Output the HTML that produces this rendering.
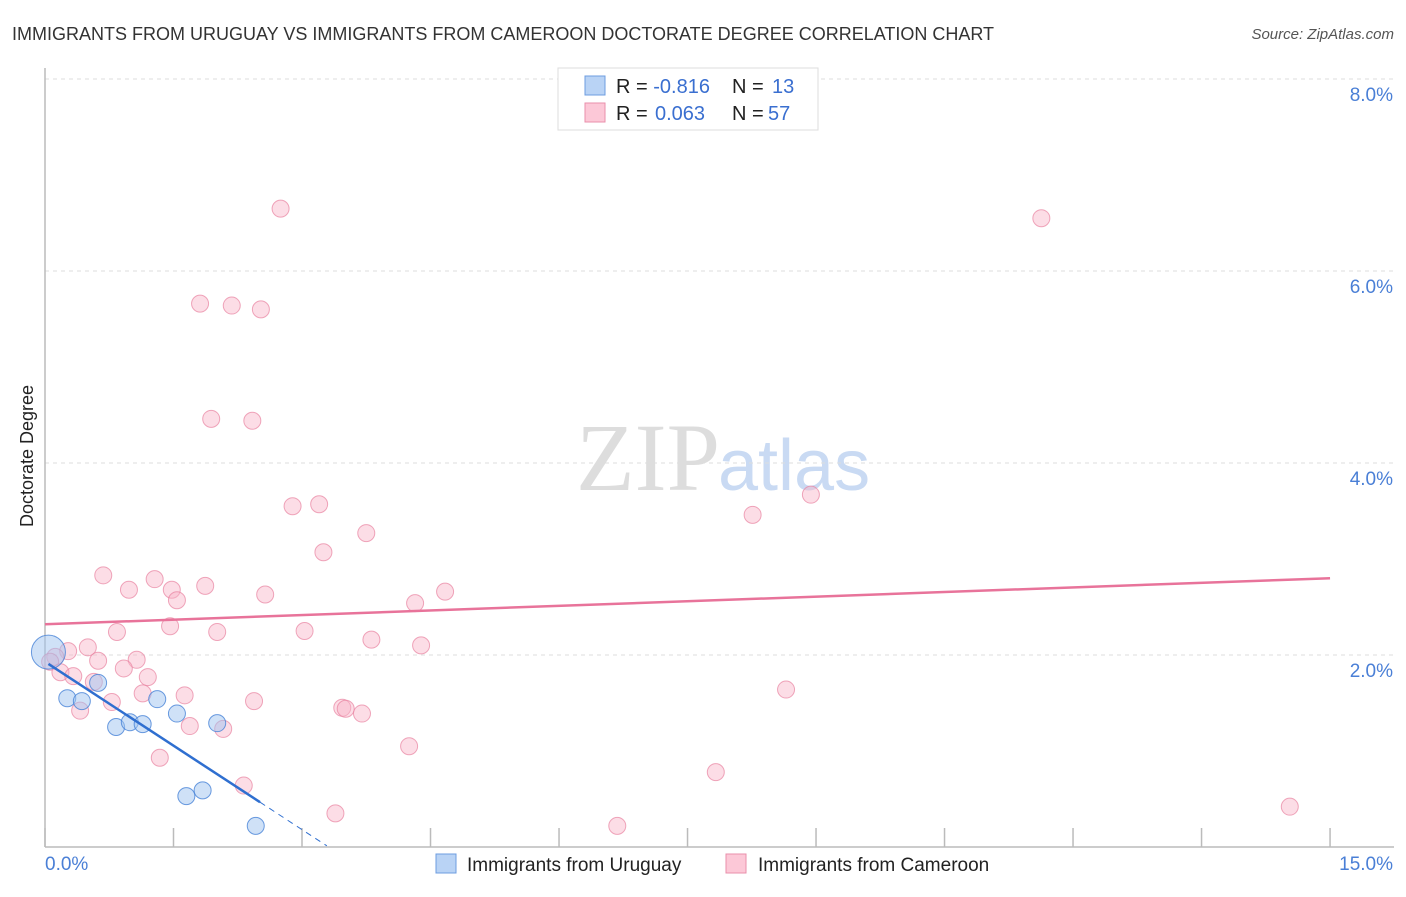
<!DOCTYPE html>
<html><head><meta charset="utf-8"><style>
body{margin:0;background:#fff;font-family:"Liberation Sans",sans-serif}
svg text{font-family:"Liberation Sans",sans-serif}
</style></head><body>
<svg id="c" width="1406" height="892">
<text x="12" y="40" font-size="18" fill="#333">IMMIGRANTS FROM URUGUAY VS IMMIGRANTS FROM CAMEROON DOCTORATE DEGREE CORRELATION CHART</text>
<text x="1394" y="39" font-size="15" fill="#555" font-style="italic" text-anchor="end">Source: ZipAtlas.com</text>
<text x="720" y="490" font-size="96" fill="#ddd" text-anchor="end" font-family="Liberation Serif" style="font-family:'Liberation Serif',serif">ZIP</text>
<text x="718" y="490" font-size="72" fill="#c9daf3">atlas</text>
<text transform="translate(33,456) rotate(-90)" font-size="18" fill="#222" text-anchor="middle">Doctorate Degree</text>
<g id="grid"></g><g id="marks"></g>
<g>
<rect x="558" y="68" width="260" height="62" fill="#fff" stroke="#ddd"/>
<rect x="585" y="76" width="20" height="19" fill="#b9d3f5" stroke="#6d9de0"/>
<rect x="585" y="103" width="20" height="19" fill="#fcc8d7" stroke="#ea8fab"/>
<text x="616" y="93" font-size="20" fill="#222">R = <tspan fill="#3a6fd0">-0.816</tspan><tspan x="732">N = </tspan><tspan fill="#3a6fd0" x="772">13</tspan></text>
<text x="616" y="120" font-size="20" fill="#222">R = <tspan fill="#3a6fd0" x="655">0.063</tspan><tspan x="732">N = </tspan><tspan fill="#3a6fd0" x="768">57</tspan></text>
</g>
<g>
<rect x="436" y="854" width="20" height="19" fill="#b9d3f5" stroke="#6d9de0"/>
<text x="467" y="871" font-size="19" fill="#222">Immigrants from Uruguay</text>
<rect x="726" y="854" width="20" height="19" fill="#fcc8d7" stroke="#ea8fab"/>
<text x="758" y="871" font-size="19" fill="#222">Immigrants from Cameroon</text>
</g>
</svg>
<script>
const xTicks=[0,1.5,3,4.5,6,7.5,9,10.5,12,13.5,15];
const yTicks=[2,4,6,8];
const yTickLabels=["2.0%","4.0%","6.0%","8.0%"];
const blueX=[0.04,0.26,0.43,0.62,0.83,0.99,1.14,1.31,1.54,1.65,1.84,2.01,2.46];
const blueY=[2.03,1.55,1.52,1.71,1.25,1.30,1.28,1.54,1.39,0.53,0.59,1.29,0.22];
const pinkX=[2.75,11.63,1.81,2.18,2.52,1.94,2.42,2.89,3.20,8.94,8.26,3.75,3.25,0.68,1.28,0.98,1.48,1.87,1.54,2.57,4.67,4.32,1.46,0.84,2.01,3.03,3.81,4.39,0.50,0.27,0.12,0.06,0.62,1.07,0.18,0.33,0.92,1.20,0.57,0.78,1.14,1.63,0.41,2.44,8.65,3.47,3.51,3.70,1.69,2.08,1.34,4.25,2.32,7.83,3.39,6.68,14.53];
const pinkY=[6.65,6.55,5.66,5.64,5.60,4.46,4.44,3.55,3.57,3.67,3.46,3.27,3.07,2.83,2.79,2.68,2.68,2.72,2.57,2.63,2.66,2.54,2.30,2.24,2.24,2.25,2.16,2.10,2.08,2.04,1.98,1.93,1.94,1.95,1.82,1.78,1.86,1.77,1.72,1.51,1.60,1.58,1.42,1.52,1.64,1.45,1.44,1.39,1.26,1.23,0.93,1.05,0.64,0.78,0.35,0.22,0.42];
const pinkTrend=[2.32,2.80];
const blueTrend=[1.93,-0.583];
const X=v=>45+v*85.67, Y=v=>847-v*96;
const NS="http://www.w3.org/2000/svg";
const grid=document.getElementById('grid'), marks=document.getElementById('marks');
function mk(tag,attrs,parent){const e=document.createElementNS(NS,tag);for(const k in attrs)e.setAttribute(k,attrs[k]);parent.appendChild(e);return e;}
yTicks.forEach((t,i)=>{
 const l=mk('line',{x1:45,x2:1394,y1:Y(t),y2:Y(t),stroke:'#ddd','stroke-dasharray':'4,4'},grid);
 
 
 const tx=mk('text',{x:1393,y:Y(t)+22,'font-size':19,fill:'#4a7fd6','text-anchor':'end'},grid);tx.textContent=yTickLabels[i];
 
 
});
mk('line',{x1:45,x2:1394,y1:Y(8),y2:Y(8),stroke:'#ddd','stroke-dasharray':'4,4'},grid);
mk('line',{x1:45,x2:45,y1:68,y2:847,stroke:'#bbb','stroke-width':1.5},grid);
mk('line',{x1:45,x2:1394,y1:847,y2:847,stroke:'#bbb','stroke-width':1.5},grid);
xTicks.forEach(t=>{const l=mk('line',{x1:X(t),x2:X(t),y1:828,y2:847,stroke:'#bbb','stroke-width':1.5},grid);
 
 });
const x0=mk('text',{x:45,y:870,'font-size':19,fill:'#4a7fd6'},grid);x0.textContent="0.0%";


const x1=mk('text',{x:1393,y:870,'font-size':19,fill:'#4a7fd6','text-anchor':'end'},grid);x1.textContent="15.0%";


pinkX.forEach((v,i)=>{const c=mk('circle',{cx:X(v),cy:Y(pinkY[i]),r:8.5,fill:'rgba(248,180,200,0.45)',stroke:'rgba(232,130,160,0.7)','stroke-width':1},marks);
 
 });
blueX.forEach((v,i)=>{const c=mk('circle',{cx:X(v),cy:Y(blueY[i]),r:i===0?17:8.5,fill:'rgba(160,195,240,0.5)',stroke:'rgba(70,130,215,0.8)','stroke-width':1},marks);
 
 });
const pl=mk('line',{x1:X(0),y1:Y(pinkTrend[0]),x2:X(15),y2:Y(pinkTrend[1]),stroke:'#e8739a','stroke-width':2.5},marks);


const bf=x=>blueTrend[0]+blueTrend[1]*x;
const bl=mk('line',{x1:X(0.04),y1:Y(bf(0.04)),x2:X(2.51),y2:Y(bf(2.51)),stroke:'#2f6fd0','stroke-width':2.5},marks);


const bd=mk('line',{x1:X(2.51),y1:Y(bf(2.51)),x2:X(3.29),y2:Y(bf(3.29)),stroke:'#2f6fd0','stroke-width':1,'stroke-dasharray':'6,5'},marks);


</script>
</body></html>
